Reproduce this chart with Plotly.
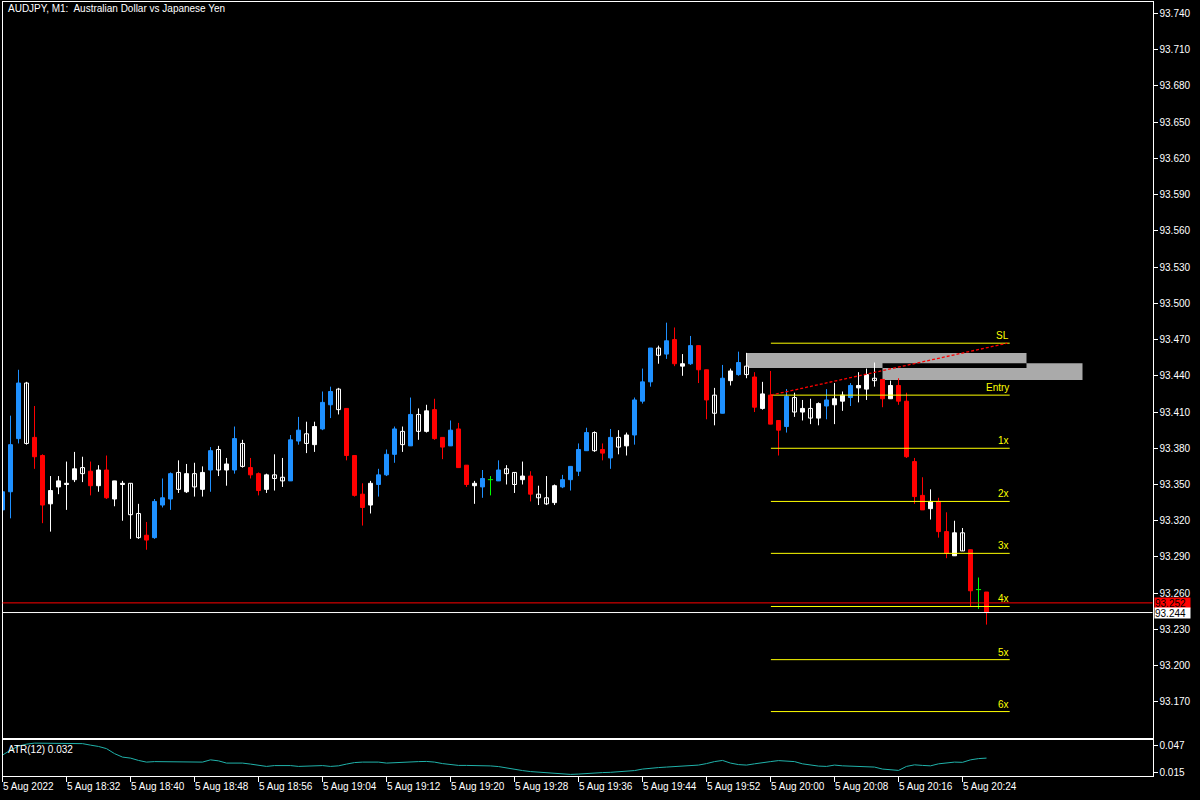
import plotly.graph_objects as go
import pandas as pd

# ---------------- data ----------------
symbol_title = "AUDJPY, M1:\u00a0 Australian Dollar vs Japanese Yen"
start_time = "2022-08-05 18:24"

O = [93.329, 93.344, 93.388, 93.434, 93.389, 93.374, 93.334, 93.348, 93.350, 93.354,
     93.364, 93.361, 93.349, 93.362, 93.338, 93.350, 93.351, 93.326, 93.308, 93.306,
     93.333, 93.338, 93.360, 93.344, 93.359, 93.346, 93.362, 93.379, 93.362, 93.362,
     93.384, 93.364, 93.359, 93.346, 93.358, 93.356, 93.353, 93.386, 93.392, 93.383,
     93.396, 93.416, 93.429, 93.413, 93.374, 93.342, 93.333, 93.350, 93.358, 93.375,
     93.394, 93.382, 93.408, 93.394, 93.412, 93.389, 93.382, 93.396, 93.366, 93.349,
     93.348, 93.354, 93.353, 93.363, 93.360, 93.354, 93.357, 93.342, 93.339, 93.335,
     93.348, 93.354, 93.361, 93.378, 93.393, 93.379, 93.372, 93.389, 93.382, 93.391,
     93.419, 93.435, 93.463, 93.458, 93.470, 93.448, 93.450, 93.465, 93.445, 93.424,
     93.409, 93.436, 93.441, 93.448, 93.439, 93.413, 93.424, 93.403, 93.398, 93.422,
     93.410, 93.413, 93.405, 93.415, 93.416, 93.419, 93.422, 93.430, 93.429, 93.438,
     93.437, 93.421, 93.432, 93.419, 93.369, 93.341, 93.330, 93.336, 93.311, 93.291,
     93.310, 93.296, 93.263, 93.261]
H = [93.346, 93.407, 93.445, 93.435, 93.415, 93.375, 93.357, 93.357, 93.369, 93.377,
     93.373, 93.369, 93.366, 93.374, 93.353, 93.353, 93.351, 93.334, 93.319, 93.338,
     93.355, 93.360, 93.370, 93.367, 93.368, 93.365, 93.381, 93.382, 93.372, 93.398,
     93.387, 93.372, 93.360, 93.359, 93.375, 93.372, 93.391, 93.406, 93.402, 93.402,
     93.427, 93.431, 93.430, 93.413, 93.374, 93.351, 93.353, 93.363, 93.379, 93.398,
     93.398, 93.422, 93.413, 93.416, 93.421, 93.389, 93.403, 93.401, 93.366, 93.353,
     93.362, 93.357, 93.370, 93.366, 93.360, 93.369, 93.361, 93.349, 93.357, 93.350,
     93.358, 93.365, 93.384, 93.397, 93.394, 93.384, 93.396, 93.395, 93.393, 93.422,
     93.446, 93.463, 93.465, 93.484, 93.480, 93.458, 93.473, 93.465, 93.445, 93.430,
     93.449, 93.446, 93.460, 93.459, 93.443, 93.435, 93.444, 93.403, 93.429, 93.426,
     93.420, 93.421, 93.418, 93.429, 93.434, 93.427, 93.434, 93.443, 93.446, 93.451,
     93.437, 93.436, 93.438, 93.426, 93.372, 93.356, 93.346, 93.339, 93.327, 93.320,
     93.314, 93.296, 93.273, 93.261]
L = [93.327, 93.322, 93.384, 93.383, 93.363, 93.318, 93.311, 93.342, 93.329, 93.352,
     93.352, 93.341, 93.344, 93.338, 93.332, 93.320, 93.305, 93.305, 93.296, 93.305,
     93.331, 93.329, 93.343, 93.343, 93.340, 93.340, 93.344, 93.357, 93.349, 93.359,
     93.364, 93.355, 93.341, 93.343, 93.345, 93.348, 93.353, 93.383, 93.376, 93.377,
     93.395, 93.405, 93.408, 93.370, 93.340, 93.316, 93.326, 93.340, 93.357, 93.368,
     93.377, 93.382, 93.387, 93.393, 93.387, 93.371, 93.382, 93.364, 93.348, 93.334,
     93.339, 93.341, 93.353, 93.350, 93.343, 93.350, 93.336, 93.333, 93.333, 93.333,
     93.347, 93.345, 93.357, 93.378, 93.377, 93.370, 93.363, 93.375, 93.374, 93.383,
     93.417, 93.431, 93.450, 93.454, 93.448, 93.440, 93.449, 93.434, 93.404, 93.399,
     93.409, 93.432, 93.440, 93.438, 93.410, 93.412, 93.400, 93.374, 93.393, 93.406,
     93.403, 93.400, 93.399, 93.404, 93.400, 93.411, 93.415, 93.418, 93.420, 93.431,
     93.414, 93.421, 93.416, 93.372, 93.334, 93.329, 93.321, 93.306, 93.289, 93.291,
     93.295, 93.249, 93.247, 93.234]
C = [93.344, 93.383, 93.434, 93.384, 93.373, 93.333, 93.345, 93.353, 93.351, 93.363,
     93.359, 93.349, 93.362, 93.339, 93.353, 93.351, 93.325, 93.306, 93.304, 93.336,
     93.339, 93.359, 93.346, 93.359, 93.348, 93.360, 93.378, 93.362, 93.367, 93.388,
     93.365, 93.358, 93.345, 93.358, 93.355, 93.353, 93.387, 93.395, 93.384, 93.398,
     93.418, 93.427, 93.412, 93.374, 93.341, 93.331, 93.351, 93.358, 93.375, 93.396,
     93.383, 93.408, 93.394, 93.411, 93.388, 93.381, 93.395, 93.364, 93.350, 93.351,
     93.355, 93.354, 93.362, 93.359, 93.350, 93.357, 93.342, 93.339, 93.334, 93.349,
     93.354, 93.365, 93.379, 93.393, 93.378, 93.376, 93.389, 93.381, 93.391, 93.420,
     93.435, 93.463, 93.457, 93.469, 93.450, 93.450, 93.465, 93.445, 93.420, 93.409,
     93.438, 93.444, 93.451, 93.441, 93.414, 93.425, 93.400, 93.395, 93.423, 93.410,
     93.413, 93.405, 93.417, 93.420, 93.421, 93.424, 93.432, 93.432, 93.441, 93.436,
     93.421, 93.432, 93.419, 93.373, 93.340, 93.329, 93.336, 93.311, 93.293, 93.310,
     93.295, 93.262, 93.263, 93.244]
# 1 = candle highlighted (blue if up, red if down)
HL = [1, 1, 1, 0, 1, 1, 0, 0, 0, 0,
      0, 1, 0, 1, 0, 0, 0, 0, 1, 1,
      1, 1, 0, 0, 0, 0, 1, 0, 0, 1,
      0, 1, 1, 0, 0, 0, 1, 1, 0, 0,
      1, 1, 0, 1, 1, 1, 0, 1, 1, 1,
      0, 1, 0, 0, 1, 1, 1, 1, 1, 0,
      1, 0, 1, 0, 0, 0, 1, 0, 0, 0,
      1, 1, 1, 1, 0, 1, 1, 0, 0, 1,
      1, 1, 0, 1, 1, 0, 1, 1, 1, 0,
      1, 0, 1, 0, 1, 0, 1, 1, 1, 0,
      0, 0, 0, 1, 0, 0, 1, 0, 0, 0,
      1, 0, 1, 1, 1, 1, 0, 1, 1, 0,
      0, 1, 0, 1]
ATR = [0.0354, 0.0414, 0.0462, 0.0486, 0.0498, 0.0498, 0.0498, 0.0498, 0.0498, 0.0498,
       0.0492, 0.0474, 0.0458, 0.0432, 0.0372, 0.0330, 0.0318, 0.0290, 0.0270, 0.0276,
       0.0276, 0.0270, 0.0276, 0.0278, 0.0270, 0.0270, 0.0297, 0.0285, 0.0258, 0.0258,
       0.0258, 0.0246, 0.0234, 0.0218, 0.0228, 0.0230, 0.0228, 0.0218, 0.0222, 0.0230,
       0.0228, 0.0218, 0.0225, 0.0246, 0.0264, 0.0270, 0.0270, 0.0270, 0.0258, 0.0264,
       0.0270, 0.0270, 0.0276, 0.0278, 0.0270, 0.0252, 0.0240, 0.0230, 0.0230, 0.0230,
       0.0230, 0.0224, 0.0216, 0.0198, 0.0180, 0.0168, 0.0156, 0.0150, 0.0146, 0.0138,
       0.0126, 0.0122, 0.0126, 0.0134, 0.0138, 0.0144, 0.0147, 0.0152, 0.0158, 0.0168,
       0.0186, 0.0198, 0.0204, 0.0210, 0.0218, 0.0222, 0.0225, 0.0234, 0.0252, 0.0276,
       0.0290, 0.0258, 0.0240, 0.0234, 0.0249, 0.0258, 0.0276, 0.0288, 0.0285, 0.0276,
       0.0249, 0.0234, 0.0222, 0.0218, 0.0234, 0.0225, 0.0222, 0.0220, 0.0218, 0.0210,
       0.0186, 0.0174, 0.0170, 0.0218, 0.0237, 0.0230, 0.0225, 0.0249, 0.0258, 0.0270,
       0.0267, 0.0297, 0.0312, 0.0318]

time_ticks = ["18:24", "18:32", "18:40", "18:48", "18:56", "19:04", "19:12", "19:20",
              "19:28", "19:36", "19:44", "19:52", "20:00", "20:08", "20:16", "20:24"]
time_tick_labels = ["5 Aug 2022", "5 Aug 18:32", "5 Aug 18:40", "5 Aug 18:48", "5 Aug 18:56",
                    "5 Aug 19:04", "5 Aug 19:12", "5 Aug 19:20", "5 Aug 19:28", "5 Aug 19:36",
                    "5 Aug 19:44", "5 Aug 19:52", "5 Aug 20:00", "5 Aug 20:08", "5 Aug 20:16",
                    "5 Aug 20:24"]
price_ticks = [93.170, 93.200, 93.230, 93.260, 93.290, 93.320, 93.350, 93.380, 93.410,
               93.440, 93.470, 93.500, 93.530, 93.560, 93.590, 93.620, 93.650, 93.680,
               93.710, 93.740]
atr_ticks = [0.015, 0.047]
atr_label = "ATR(12) 0.032"

# trade tool
level_names = ["SL", "Entry", "1x", "2x", "3x", "4x", "5x", "6x"]
level_prices = [93.467, 93.424, 93.380, 93.336, 93.293, 93.249, 93.205, 93.162]
level_start, level_end = "20:00", "20:30"
zone1 = dict(t0="19:57", t1="20:32", p0=93.4464, p1=93.4588)
zone2 = dict(t0="20:14", t1="20:39", p0=93.4365, p1=93.4505)
ask_price = 93.252
bid_price = 93.244

# ---------------- build ----------------
n = len(O)
assert len(H) == n and len(L) == n and len(C) == n and len(HL) == n and len(ATR) == n
times = pd.date_range(start_time, periods=n + 20, freq="min")
tstr = [t.strftime("%H:%M") for t in times]
idx = list(range(n))


def tpos(s):
    return tstr.index(s)


BLUE, RED, WHITE, GREEN = "#1E90FF", "#FF0000", "#FFFFFF", "#00FF00"
groups = {"blue": [], "red": [], "white": [], "hollow": [], "doji": []}
for i in idx:
    if O[i] == C[i]:
        groups["doji"].append(i)
    elif HL[i]:
        groups["blue" if C[i] > O[i] else "red"].append(i)
    else:
        groups["white" if C[i] > O[i] else "hollow"].append(i)

style = {"blue": (BLUE, BLUE), "red": (RED, RED), "white": (WHITE, WHITE),
         "hollow": ("#000000", WHITE), "doji": (GREEN, GREEN)}

fig = go.Figure()
# wicks
for g, members in groups.items():
    xs, ys = [], []
    for i in members:
        xs += [i, i, None]
        ys += [L[i], H[i], None]
    fig.add_trace(go.Scatter(x=xs, y=ys, mode="lines", line=dict(color=style[g][1], width=1),
                             hoverinfo="skip", showlegend=False, xaxis="x", yaxis="y"))
# bodies
for g, members in groups.items():
    if g == "doji":
        xs, ys = [], []
        for i in members:
            xs += [i - 0.32, i + 0.32, None]
            ys += [O[i], O[i], None]
        fig.add_trace(go.Scatter(x=xs, y=ys, mode="lines", line=dict(color=GREEN, width=1),
                                 hoverinfo="skip", showlegend=False, xaxis="x", yaxis="y"))
        continue
    fig.add_trace(go.Bar(x=members, y=[C[i] - O[i] for i in members], base=[O[i] for i in members],
                         width=0.5, marker=dict(color=style[g][0], line=dict(color=style[g][1], width=1)),
                         hoverinfo="skip", showlegend=False, xaxis="x", yaxis="y"))

# ATR
fig.add_trace(go.Scatter(x=idx, y=ATR, mode="lines", line=dict(color="#20B2AA", width=1),
                         hoverinfo="skip", showlegend=False, xaxis="x2", yaxis="y2"))

W, Hh = 1200, 800
xdom = [2.5 / W, 1152.5 / W]
xr = [0, 1150 / 8]
FONT = "Liberation Sans"

shapes = []
# zones (overlap drawn black like MT5 xor)
for z in (zone1, zone2):
    shapes.append(dict(type="rect", xref="x", yref="y", x0=tpos(z["t0"]), x1=tpos(z["t1"]),
                       y0=z["p0"], y1=z["p1"], fillcolor="#AAAAAA", line=dict(width=0), layer="below"))
shapes.append(dict(type="rect", xref="x", yref="y", x0=tpos(zone2["t0"]), x1=tpos(zone1["t1"]),
                   y0=max(zone1["p0"], zone2["p0"]), y1=min(zone1["p1"], zone2["p1"]),
                   fillcolor="#000000", line=dict(width=0), layer="below"))
x_ls, x_le = tpos(level_start) + 0.05, tpos(level_end) - 0.1
for p in level_prices:
    shapes.append(dict(type="line", xref="x", yref="y", x0=x_ls, x1=x_le, y0=p, y1=p,
                       line=dict(color="#FFFF00", width=1)))
shapes.append(dict(type="line", xref="x", yref="y", x0=x_ls, x1=x_le - 0.3,
                   y0=level_prices[1], y1=level_prices[0],
                   line=dict(color=RED, width=1.3, dash="3px,2px")))
shapes.append(dict(type="line", xref="x domain", yref="y", x0=0, x1=1, y0=ask_price, y1=ask_price,
                   line=dict(color=RED, width=1)))
shapes.append(dict(type="line", xref="x domain", yref="y", x0=0, x1=1, y0=bid_price, y1=bid_price,
                   line=dict(color=WHITE, width=1)))

ann = []
ann.append(dict(text=symbol_title, xref="paper", yref="paper", x=6 / W, y=1 - 9 / Hh,
                xanchor="left", yanchor="middle", showarrow=False, font=dict(color=WHITE, size=10, family=FONT)))
ann.append(dict(text=atr_label, xref="paper", yref="paper", x=6 / W, y=1 - 751 / Hh,
                xanchor="left", yanchor="middle", showarrow=False, font=dict(color=WHITE, size=10, family=FONT)))
for t, lab in zip(time_ticks, time_tick_labels):
    ann.append(dict(text=lab, xref="x2", yref="paper", x=tpos(t), y=1 - 788 / Hh,
                    xanchor="left", yanchor="middle", showarrow=False, borderpad=0, xshift=-1,
                    font=dict(color=WHITE, size=10, family=FONT)))
for name, p in zip(level_names, level_prices):
    ann.append(dict(text=name, xref="x", yref="y", x=x_le, y=p, xanchor="right", yanchor="bottom",
                    showarrow=False, borderpad=0, yshift=1, font=dict(color="#FFFF00", size=10, family=FONT)))
for p, bg in ((ask_price, RED), (bid_price, WHITE)):
    ann.append(dict(text=f"{p:.3f}", xref="paper", yref="y", x=1154 / W, y=p, xanchor="left",
                    yanchor="middle", showarrow=False, bgcolor=bg, borderpad=0, width=35, height=10,
                    align="left", font=dict(color="#000000", size=10, family=FONT)))

axis_common = dict(showgrid=False, zeroline=False, showline=True, linecolor=WHITE, linewidth=1, mirror=True)
fig.update_layout(
    width=W, height=Hh, margin=dict(l=0, r=0, t=0, b=0),
    paper_bgcolor="#000000", plot_bgcolor="#000000", barmode="overlay", showlegend=False,
    font=dict(family=FONT, color=WHITE, size=10),
    xaxis=dict(domain=xdom, range=xr, anchor="y", showticklabels=False, ticks="", **axis_common),
    yaxis=dict(domain=[1 - 740 / Hh, 1 - 2 / Hh], range=[93.1400, 93.7495], side="right", anchor="x",
               tickvals=price_ticks, tickformat=".3f", ticks="outside", ticklen=4, tickcolor=WHITE,
               tickfont=dict(color=WHITE, size=10, family=FONT), **axis_common),
    xaxis2=dict(domain=xdom, range=xr, anchor="y2", tickvals=[tpos(t) for t in time_ticks],
                showticklabels=False, ticks="outside", ticklen=5, tickcolor=WHITE, **axis_common),
    yaxis2=dict(domain=[1 - 778 / Hh, 1 - 742 / Hh], range=[0.0102, 0.0534], side="right", anchor="x2",
                tickvals=atr_ticks, tickformat=".3f", ticks="outside", ticklen=4, tickcolor=WHITE,
                tickfont=dict(color=WHITE, size=10, family=FONT), **axis_common),
    shapes=shapes, annotations=ann,
)
fig.write_html("out.html", config={"displayModeBar": False},
               post_script="document.body.style.margin='0px';document.body.style.background='#000';")
